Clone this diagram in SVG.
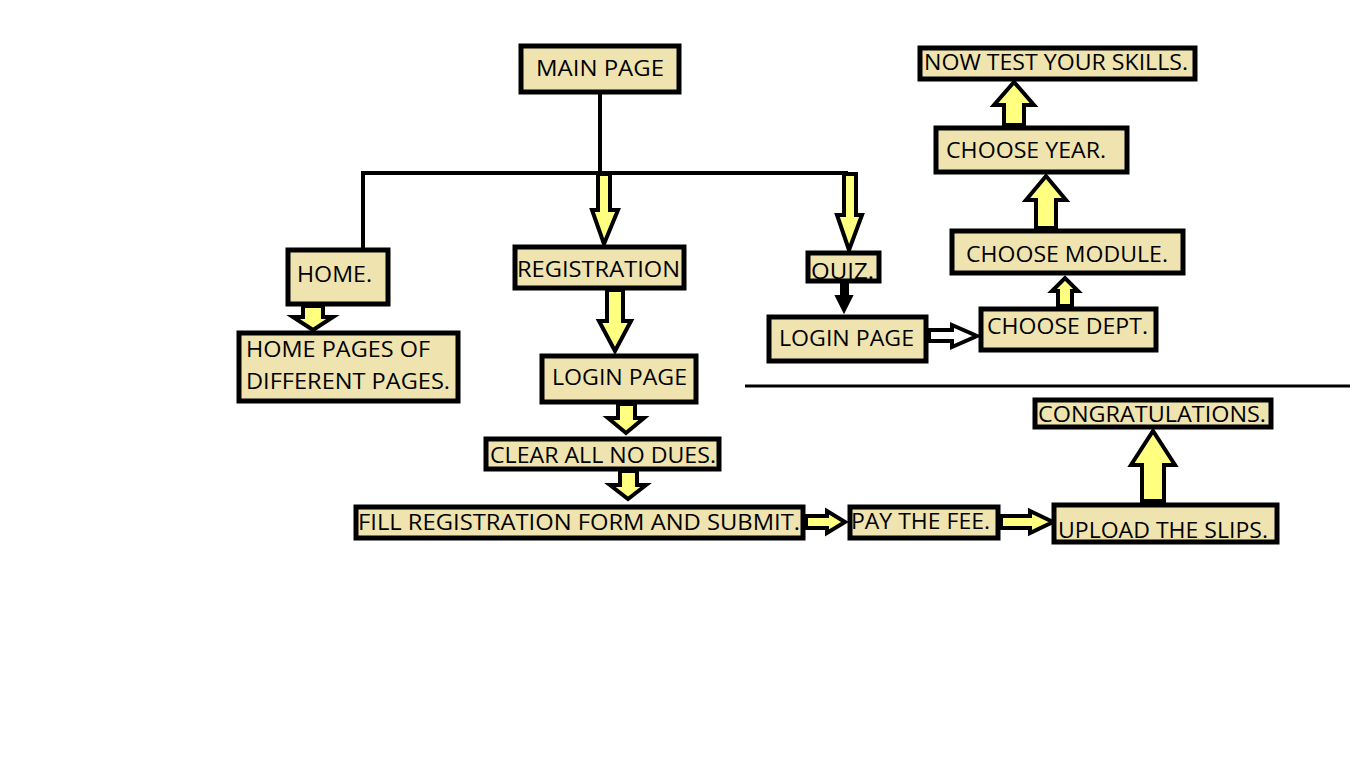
<svg xmlns="http://www.w3.org/2000/svg" width="1366" height="768" viewBox="0 0 1366 768">
<style>
.box rect{fill:#efe4b0;stroke:#000;stroke-width:5}
.box text{font-family:"Open Sans","Liberation Sans",sans-serif;font-size:22px;fill:#000}
.ar{fill:#ffff80;stroke:#000;stroke-width:4;stroke-linejoin:miter}
.ln{fill:none;stroke:#000;stroke-width:4}
</style>
<rect width="1366" height="768" fill="#fff"/>
<g id="connectors">
<path class="ln" d="M600 93 V173 M363 248 V173 H848"/>
<line x1="745" y1="386" x2="1350" y2="386" stroke="#000" stroke-width="3"/>
<polygon class="ar" points="598,174 610,174 610,210 618,210 604,244 592,210 598,210"/>
<polygon class="ar" points="844,174 856,174 856,215 862,215 849,250 837,215 844,215"/>
<polygon class="ar" points="303,306 323,306 323,317 333,317 313,330 293,317 303,317"/>
<polygon class="ar" points="607,290 623,290 623,321 631,321 615,351 599,321 607,321"/>
<polygon class="ar" points="618,404 635,404 635,418 644,418 626,433 608,418 618,418"/>
<polygon class="ar" points="620,471 637,471 637,485 646,485 628,499 610,485 620,485"/>
<polygon class="ar" points="806,516 827,516 827,511 845,522 827,533 827,528 806,528"/>
<polygon class="ar" points="1001,516 1030,516 1030,511 1053,522 1030,533 1030,528 1001,528"/>
<polygon class="ar" points="1142,501 1164,501 1164,465 1175,465 1153,431 1131,465 1142,465"/>
<polygon fill="#000" stroke="#000" stroke-width="2" points="841,283 848,283 848,296 852,296 844,312 836,296 841,296"/>
<polygon fill="#fff" stroke="#000" stroke-width="4" points="929,330 952,330 952,325 977,336 952,347 952,341 929,341"/>
<polygon class="ar" points="1058,306 1072,306 1072,291 1078,291 1065,278 1052,291 1058,291"/>
<polygon class="ar" points="1036,228 1056,228 1056,200 1066,200 1046,176 1026,200 1036,200"/>
<polygon class="ar" points="1004,125 1024,125 1024,105 1034,105 1014,82 994,105 1004,105"/>
</g>
<g id="main" class="box"><rect x="521" y="46" width="158" height="46"/><text x="536" y="76" textLength="128" lengthAdjust="spacingAndGlyphs">MAIN PAGE</text></g>
<g id="home" class="box"><rect x="288" y="250" width="100" height="54"/><text x="297" y="282" textLength="75" lengthAdjust="spacingAndGlyphs">HOME.</text></g>
<g id="homepages" class="box"><rect x="239" y="333" width="219" height="68"/><text x="246" y="357" textLength="184" lengthAdjust="spacingAndGlyphs">HOME PAGES OF</text><text x="246" y="389" textLength="204" lengthAdjust="spacingAndGlyphs">DIFFERENT PAGES.</text></g>
<g id="registration" class="box"><rect x="515" y="247" width="169" height="41"/><text x="517" y="277" textLength="163" lengthAdjust="spacingAndGlyphs">REGISTRATION</text></g>
<g id="login1" class="box"><rect x="542" y="356" width="154" height="46"/><text x="552" y="385" textLength="135" lengthAdjust="spacingAndGlyphs">LOGIN PAGE</text></g>
<g id="clear" class="box"><rect x="486" y="439" width="233" height="30"/><text x="490" y="463" textLength="226" lengthAdjust="spacingAndGlyphs">CLEAR ALL NO DUES.</text></g>
<g id="fill" class="box"><rect x="356" y="507" width="447" height="31"/><text x="358" y="530" textLength="442" lengthAdjust="spacingAndGlyphs">FILL REGISTRATION FORM AND SUBMIT.</text></g>
<g id="pay" class="box"><rect x="850" y="507" width="148" height="31"/><text x="851" y="529" textLength="139" lengthAdjust="spacingAndGlyphs">PAY THE FEE.</text></g>
<g id="upload" class="box"><rect x="1054" y="505" width="223" height="37"/><text x="1058" y="538" textLength="210" lengthAdjust="spacingAndGlyphs">UPLOAD THE SLIPS.</text></g>
<g id="congrats" class="box"><rect x="1035" y="400" width="236" height="27"/><text x="1038" y="422" textLength="228" lengthAdjust="spacingAndGlyphs">CONGRATULATIONS.</text></g>
<g id="quiz" class="box"><rect x="808" y="253" width="71" height="28"/><text x="811" y="279" textLength="63" lengthAdjust="spacingAndGlyphs">QUIZ.</text></g>
<g id="login2" class="box"><rect x="769" y="317" width="157" height="44"/><text x="779" y="346" textLength="135" lengthAdjust="spacingAndGlyphs">LOGIN PAGE</text></g>
<g id="dept" class="box"><rect x="981" y="309" width="175" height="41"/><text x="987" y="334" textLength="161" lengthAdjust="spacingAndGlyphs">CHOOSE DEPT.</text></g>
<g id="module" class="box"><rect x="952" y="231" width="231" height="42"/><text x="966" y="262" textLength="202" lengthAdjust="spacingAndGlyphs">CHOOSE MODULE.</text></g>
<g id="year" class="box"><rect x="936" y="128" width="191" height="44"/><text x="946" y="158" textLength="160" lengthAdjust="spacingAndGlyphs">CHOOSE YEAR.</text></g>
<g id="nowtest" class="box"><rect x="920" y="48" width="275" height="31"/><text x="924" y="70" textLength="264" lengthAdjust="spacingAndGlyphs">NOW TEST YOUR SKILLS.</text></g>
</svg>
